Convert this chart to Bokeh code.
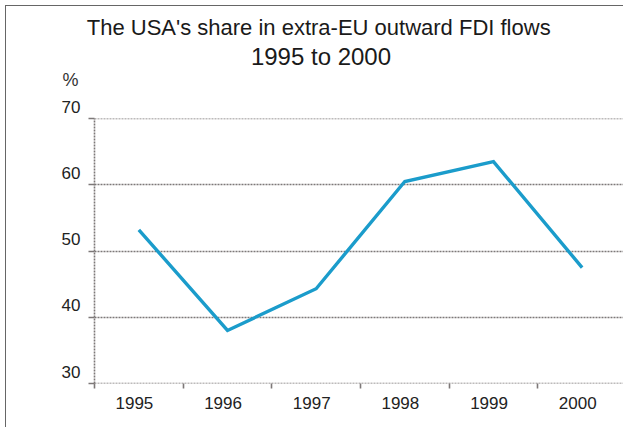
import html
from bokeh.plotting import figure
from bokeh.models import Range1d, FixedTicker, Div
from bokeh.layouts import column
from bokeh.embed import file_html
from bokeh.resources import INLINE

# ---- data ----
years = ["1995", "1996", "1997", "1998", "1999", "2000"]
share = [53.2, 38.0, 44.3, 60.5, 63.5, 47.5]
y_ticks = [30, 40, 50, 60, 70]
title_line1 = "The USA's share in extra-EU outward FDI flows"
title_line2 = "1995 to 2000"
unit_label = "%"

n = len(years)
xs = [i + 0.5 for i in range(n)]          # category centres
bounds = list(range(n))                   # category boundaries (tick marks)
label_pos = [c - 0.05 for c in xs]        # year labels, slightly left

FONT = "Liberation Sans"
GRID = "#7d7878"

# ---- layout (pixels) ----
W = 617
HEAD = 87                 # height of the heading block
H = 421 - HEAD            # plot height
ML, MT, MB = 88, 25, 44
frame_w = W - ML
x0, x1 = 0, frame_w / 88.66
y0, y1 = 29.99, 70.01


def block(text, left, top, width, size, color="#1a1a1a"):
    return (f'<div style="position:absolute;left:{left}px;top:{top}px;width:{width}px;'
            f'text-align:center;font-family:\'{FONT}\';font-size:{size}px;line-height:1;'
            f'color:{color};white-space:nowrap">{html.escape(text)}</div>')


head_html = ('<div style="position:relative;width:%dpx;height:%dpx">' % (W, HEAD)
             + block(title_line1, 62.7, 11.1, 500, 22)
             + block(title_line2, 165, 38.7, 300, 24)
             + block(unit_label, 44.5, 64.5, 40, 18, "#333333")
             + '</div>')
head = Div(text=head_html, width=W, height=HEAD, margin=0)

p = figure(width=W, height=H, output_backend="svg", toolbar_location=None,
           x_range=Range1d(x0, x1), y_range=Range1d(y0, y1),
           min_border_left=ML, min_border_top=MT, min_border_bottom=MB,
           min_border_right=0, margin=0)
p.outline_line_color = None
p.background_fill_color = "white"
p.border_fill_color = "white"

p.line(xs, share, line_color="#1b9ccb", line_width=3.4, line_join="miter")

# y axis
ya = p.yaxis[0]
ya.ticker = FixedTicker(ticks=y_ticks, minor_ticks=[])
ya.major_label_overrides = {v: f"{v}\n" for v in y_ticks}
ya.major_label_text_font = FONT
ya.major_label_text_font_size = "17px"
ya.major_label_text_color = "#222222"
ya.major_label_standoff = 8
ya.major_tick_out = 6
ya.major_tick_in = 0
ya.major_tick_line_color = GRID
ya.major_tick_line_width = 1.6
ya.minor_tick_line_color = None
ya.axis_line_color = GRID
ya.axis_line_width = 1.6
ya.axis_line_dash = "2 1"

# x axis
xa = p.xaxis[0]
xa.ticker = FixedTicker(ticks=label_pos, minor_ticks=bounds)
xa.major_label_overrides = {pos: yr for pos, yr in zip(label_pos, years)}
xa.major_label_text_font = FONT
xa.major_label_text_font_size = "17px"
xa.major_label_text_color = "#222222"
xa.major_tick_line_color = None
xa.major_tick_out = 0
xa.major_tick_in = 0
xa.major_label_standoff = 8
xa.minor_tick_out = 5
xa.minor_tick_in = 0
xa.minor_tick_line_color = GRID
xa.minor_tick_line_width = 1.6
xa.axis_line_color = None

# grid
p.xgrid.grid_line_color = None
p.ygrid.ticker = FixedTicker(ticks=y_ticks, minor_ticks=[])
p.ygrid.grid_line_color = GRID
p.ygrid.grid_line_width = 1.6
p.ygrid.grid_line_dash = "2 1"

layout = column(head, p, spacing=0)
layout.styles = {"margin-left": "5px", "margin-top": "5px",
                 "border-left": "1px solid #666", "border-top": "1px solid #666",
                 "background-color": "white"}

open("out.html", "w").write(file_html(layout, INLINE))
